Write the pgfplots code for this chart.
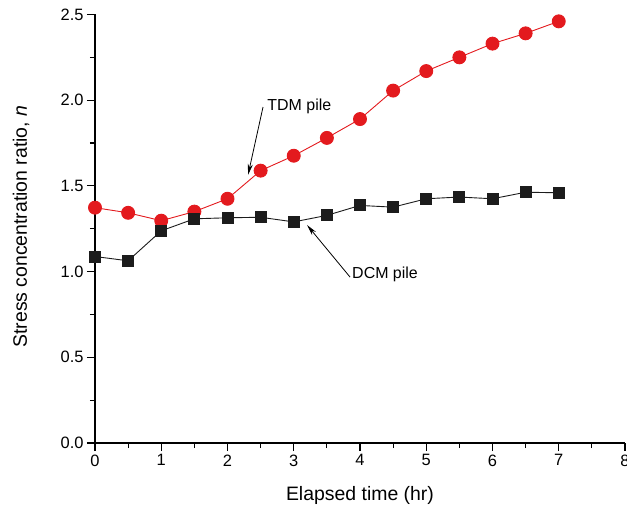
\documentclass[border=0pt]{standalone}
\usepackage{pgfplots}
\pgfplotsset{compat=1.18}
\usetikzlibrary{arrows.meta}
\usepackage{fontspec}
\setmainfont{Liberation Sans}

\definecolor{tdmred}{RGB}{227,26,30}
\definecolor{dcmblack}{RGB}{28,28,28}

\begin{document}
\begin{tikzpicture}
\useasboundingbox (-95bp,-66bp) rectangle (532bp,443bp);
\begin{axis}[
    scale only axis,
    width=530bp, height=428.5bp,
    xmin=0, xmax=8, ymin=0, ymax=2.5,
    axis x line*=bottom, axis y line*=left,
    axis line style={line width=1.2bp},
    xtick={0,1,...,8}, minor xtick={0.5,1.5,...,7.5},
    ytick={0,0.5,...,2.5}, minor ytick={0.25,0.75,...,2.25},
    tick align=outside,
    major tick length=8bp, minor tick length=5bp,
    every tick/.style={line width=1.2bp, black},
    tick label style={font=\fontsize{16.5}{18}\selectfont},
    /pgf/number format/assume math mode=true,
    yticklabel style={/pgf/number format/.cd, fixed, fixed zerofill, precision=1},
    xlabel={Elapsed time (hr)},
    ylabel={Stress concentration ratio, \textit{n}},
    every axis x label/.style={at={(axis description cs:0.5,0)}, yshift=-52bp, anchor=center,
        font=\fontsize{19.5}{22}\selectfont},
    every axis y label/.style={at={(axis description cs:0,0.505)}, xshift=-74bp, rotate=90, anchor=center,
        font=\fontsize{19.5}{22}\selectfont},
    clip=false,
]
\addplot[tdmred, line width=0.9bp, mark=*, mark size=6.5bp, mark options={fill=tdmred, draw=none}] coordinates {
    (0,1.373) (0.5,1.343) (1,1.297) (1.5,1.350) (2,1.425) (2.5,1.589) (3,1.676)
    (3.5,1.780) (4,1.890) (4.5,2.056) (5,2.170) (5.5,2.250) (6,2.330) (6.5,2.390) (7,2.460)
};
\addplot[dcmblack, line width=0.9bp, mark=square*, mark size=5.5bp, mark options={fill=dcmblack, draw=none}] coordinates {
    (0,1.088) (0.5,1.063) (1,1.238) (1.5,1.308) (2,1.314) (2.5,1.317) (3,1.290)
    (3.5,1.328) (4,1.386) (4.5,1.376) (5,1.425) (5.5,1.435) (6,1.425) (6.5,1.463) (7,1.460)
};
\draw[line width=0.8bp, -{Stealth[length=11bp, width=5bp]}] (axis cs:2.536,1.96) -- (axis cs:2.31,1.564);
\node[anchor=west, inner sep=0pt, font=\fontsize{16}{18}\selectfont] at (axis cs:2.6,1.962) {TDM pile};
\draw[line width=0.8bp, -{Stealth[length=11bp, width=5bp]}] (axis cs:3.85,0.968) -- (axis cs:3.2,1.272);
\node[anchor=west, inner sep=0pt, font=\fontsize{16}{18}\selectfont] at (axis cs:3.88,0.984) {DCM pile};
\end{axis}
\end{tikzpicture}
\end{document}
